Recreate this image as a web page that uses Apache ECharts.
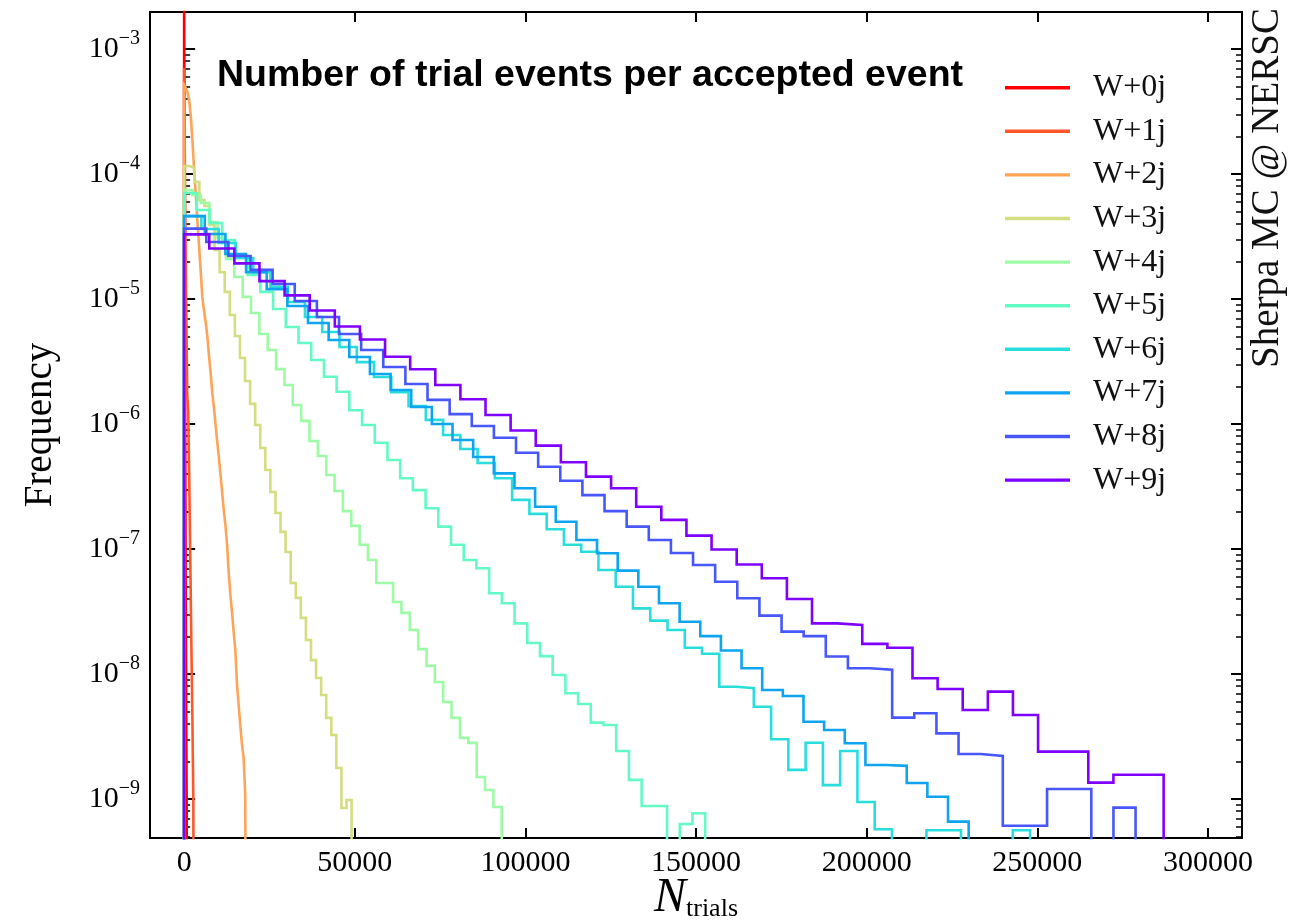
<!DOCTYPE html>
<html>
<head>
<meta charset="utf-8">
<title>Number of trial events per accepted event</title>
<script src="https://cdn.jsdelivr.net/npm/echarts@6.0.0/dist/echarts.min.js"></script>
<style>
  html, body { margin: 0; padding: 0; background: #ffffff; }
  #chart { width: 1298px; height: 921px; }
</style>
</head>
<body>
<div id="chart"></div>
<script>
// Jet multiplicities and their colours (rainbow map, W+0j red ... W+9j violet)
const seriesNames = ['W+0j', 'W+1j', 'W+2j', 'W+3j', 'W+4j', 'W+5j', 'W+6j', 'W+7j', 'W+8j', 'W+9j'];
const lineColors = ['#ff0000', '#ff572c', '#ffa457', '#d4dd80', '#9cfba4', '#63fbc3', '#2adddd', '#0ea4f0', '#4757fb', '#8000ff'];

// Histogram bin width (in number of trials) of each sample; bins start at 0
const binWidths = [250, 300, 484, 1487, 2449, 3724, 5059, 6050, 6484, 7360];

// Normalised frequency per bin (0 = empty bin)
const freqW0 = [3.2e-3, 4.0e-6, 2.0e-8, 8.0e-10];
const freqW1 = [7.05e-4, 6.19e-5, 9.82e-6, 1.74e-6, 1.25e-6, 3.56e-7, 8.95e-8, 1.87e-8, 5.06e-9, 9.64e-10];
const freqW2 = [5.15e-4, 4.88e-4, 4.53e-4, 3.91e-4, 2.96e-4, 1.87e-4, 1.12e-4, 7.05e-5, 4.29e-5, 2.70e-5,
                1.71e-5, 1.04e-5, 8.17e-6, 6.55e-6, 5.15e-6, 3.56e-6, 2.61e-6, 1.80e-6, 1.37e-6, 1.00e-6,
                7.31e-7, 5.45e-7, 3.98e-7, 2.86e-7, 2.05e-7, 1.56e-7, 1.08e-7, 6.43e-8, 4.29e-8, 3.13e-8,
                2.17e-8, 1.56e-8, 8.32e-9, 5.65e-9, 3.91e-9, 2.75e-9, 2.13e-9, 1.08e-9];
const freqW3 = [1.16e-4, 1.12e-4, 8.63e-5, 6.19e-5, 5.55e-5, 3.91e-5, 2.47e-5, 1.64e-5, 1.14e-5, 7.45e-6,
                5.06e-6, 3.37e-6, 2.21e-6, 1.45e-6, 9.82e-7, 6.43e-7, 4.29e-7, 2.86e-7, 1.94e-7, 1.37e-7,
                9.46e-8, 5.35e-8, 4.06e-8, 2.81e-8, 1.87e-8, 1.29e-8, 9.29e-9, 6.79e-9, 4.45e-9, 3.25e-9,
                1.77e-9, 8.47e-10, 9.82e-10];
const freqW4 = [7.45e-5, 6.79e-5, 5.86e-5, 4.13e-5, 3.08e-5, 2.09e-5, 1.50e-5, 1.04e-5, 7.73e-6, 5.25e-6,
                3.91e-6, 2.75e-6, 2.05e-6, 1.42e-6, 1.06e-6, 7.31e-7, 5.55e-7, 3.91e-7, 2.91e-7, 2.01e-7,
                1.53e-7, 1.08e-7, 8.17e-8, 5.35e-8, 5.35e-8, 3.77e-8, 3.08e-8, 2.25e-8, 1.58e-8, 1.16e-8,
                8.63e-9, 5.97e-9, 4.45e-9, 3.08e-9, 2.81e-9, 1.50e-9, 1.18e-9, 8.63e-10];
const freqW5 = [7.05e-5, 5.15e-5, 4.06e-5, 2.96e-5, 2.13e-5, 1.56e-5, 1.14e-5, 8.32e-6, 5.97e-6, 4.45e-6,
                3.25e-6, 2.39e-6, 1.81e-6, 1.29e-6, 9.82e-7, 7.09e-7, 5.15e-7, 3.68e-7, 2.96e-7, 2.12e-7,
                1.51e-7, 1.08e-7, 8.17e-8, 7.01e-8, 4.42e-8, 3.68e-8, 2.54e-8, 1.77e-8, 1.39e-8, 9.82e-9,
                7.01e-9, 5.75e-9, 4.08e-9, 3.91e-9, 2.42e-9, 1.42e-9, 8.79e-10, 8.79e-10, 0, 6.31e-10,
                7.69e-10];
const freqW6 = [4.61e-5, 3.63e-5, 2.81e-5, 2.13e-5, 1.64e-5, 1.25e-5, 9.46e-6, 7.18e-6, 5.45e-6, 4.13e-6,
                3.13e-6, 2.38e-6, 1.80e-6, 1.39e-6, 1.08e-6, 8.17e-7, 6.31e-7, 4.88e-7, 3.68e-7, 2.47e-7,
                1.91e-7, 1.44e-7, 1.08e-7, 9.51e-8, 6.79e-8, 4.99e-8, 3.35e-8, 2.67e-8, 2.25e-8, 1.62e-8,
                1.45e-8, 7.91e-9, 7.68e-9, 5.47e-9, 3.00e-9, 1.71e-9, 2.82e-9, 1.29e-9, 2.42e-9, 9.46e-10,
                5.72e-10, 0, 0, 5.62e-10, 5.62e-10, 0, 0, 0, 5.62e-10];
const freqW7 = [4.61e-5, 3.31e-5, 2.29e-5, 1.64e-5, 1.20e-5, 8.79e-6, 6.43e-6, 4.70e-6, 3.44e-6, 2.51e-6,
                1.87e-6, 1.37e-6, 1.00e-6, 7.45e-7, 5.45e-7, 4.03e-7, 3.06e-7, 2.18e-7, 1.65e-7, 1.18e-7,
                9.24e-8, 6.71e-8, 4.99e-8, 3.68e-8, 2.62e-8, 2.01e-8, 1.54e-8, 1.11e-8, 7.45e-9, 6.67e-9,
                4.15e-9, 3.56e-9, 2.79e-9, 1.87e-9, 1.84e-9, 1.34e-9, 1.04e-9, 6.58e-10];
const freqW8 = [3.66e-5, 2.86e-5, 2.21e-5, 1.71e-5, 1.32e-5, 9.64e-6, 7.18e-6, 5.25e-6, 3.91e-6, 2.86e-6,
                2.09e-6, 1.56e-6, 1.20e-6, 9.64e-7, 7.77e-7, 5.89e-7, 4.55e-7, 3.52e-7, 2.70e-7, 2.01e-7,
                1.51e-7, 1.18e-7, 9.29e-8, 7.45e-8, 5.47e-8, 4.03e-8, 2.93e-8, 2.18e-8, 2.01e-8, 1.38e-8,
                1.11e-8, 1.08e-8, 4.47e-9, 4.85e-9, 3.35e-9, 2.29e-9, 2.21e-9, 6.11e-10, 6.11e-10, 1.20e-9,
                1.20e-9, 0, 8.52e-10];
const freqW9 = [3.29e-5, 2.54e-5, 1.93e-5, 1.39e-5, 1.07e-5, 8.09e-6, 6.03e-6, 4.74e-6, 3.45e-6, 2.74e-6,
                2.05e-6, 1.58e-6, 1.18e-6, 8.87e-7, 6.71e-7, 4.94e-7, 3.79e-7, 3.06e-7, 2.18e-7, 1.71e-7,
                1.28e-7, 9.91e-8, 7.52e-8, 5.83e-8, 3.98e-8, 2.54e-8, 2.47e-8, 1.74e-8, 1.62e-8, 9.24e-9,
                7.59e-9, 5.15e-9, 7.22e-9, 4.70e-9, 2.39e-9, 2.39e-9, 1.35e-9, 1.56e-9, 1.56e-9];

const allFreqs = [freqW0, freqW1, freqW2, freqW3, freqW4, freqW5, freqW6, freqW7, freqW8, freqW9];

// Axis ticks
const xTicks = [0, 50000, 100000, 150000, 200000, 250000, 300000];
const yDecades = [1e-9, 1e-8, 1e-7, 1e-6, 1e-5, 1e-4, 1e-3];
const X_MIN = -10000, X_MAX = 310000;
const Y_MIN = 4.87e-10, Y_MAX = 1.98e-3;

// Minor log ticks: 2..9 times each decade inside the visible range
const yMinor = [];
[1e-10].concat(yDecades).forEach(d => {
  for (let k = 2; k <= 9; k++) {
    const v = k * d;
    if (v > Y_MIN && v < Y_MAX) yMinor.push(v);
  }
});

// Empty bins and the histogram baseline sit far below the visible range
const FLOOR = 1e-13;

// Outline of a step histogram: up from the baseline, across every bin, back down
function stepOutline(width, freqs) {
  const pts = [[0, FLOOR]];
  freqs.forEach((f, i) => {
    const v = f > 0 ? f : FLOOR;
    pts.push([i * width, v], [(i + 1) * width, v]);
  });
  pts.push([freqs.length * width, FLOOR]);
  return pts;
}

const SERIF = "'Liberation Serif', 'Times New Roman', serif";

function decadeLabel(v) {
  const e = Math.round(Math.log10(v));
  return '{b|10}{s|' + (e < 0 ? '\u2212' + (-e) : e) + '}';
}

const labelRich = {
  b: { fontFamily: SERIF, fontSize: 30, color: '#000', lineHeight: 40, verticalAlign: 'middle' },
  s: { fontFamily: SERIF, fontSize: 20, color: '#000', lineHeight: 18, verticalAlign: 'top' }
};

function yAxisDef(position, major, withLabels) {
  return {
    type: 'log',
    logBase: 10,
    position: position,
    min: Y_MIN,
    max: Y_MAX,
    gridIndex: 0,
    axisLine: { show: false },
    splitLine: { show: false },
    minorTick: { show: false },
    axisTick: {
      show: true,
      inside: true,
      length: major ? 11 : 6,
      lineStyle: { color: '#000', width: major ? 2 : 1.5 },
      customValues: major ? yDecades : yMinor
    },
    axisLabel: withLabels ? {
      show: true,
      margin: 10,
      customValues: yDecades,
      formatter: decadeLabel,
      rich: labelRich
    } : { show: false }
  };
}

const series = seriesNames.map((name, i) => ({
  name: name,
  type: 'line',
  data: stepOutline(binWidths[i], allFreqs[i]),
  showSymbol: false,
  symbol: 'none',
  clip: true,
  silent: true,
  animation: false,
  xAxisIndex: 0,
  yAxisIndex: 0,
  lineStyle: { color: lineColors[i], width: 2.6, join: 'miter' },
  itemStyle: { color: lineColors[i] },
  emphasis: { disabled: true }
}));

const chart = echarts.init(document.getElementById('chart'), null, { renderer: 'canvas' });

chart.setOption({
  animation: false,
  backgroundColor: '#ffffff',
  title: {
    text: 'Number of trial events per accepted event',
    left: 217,
    top: 57,
    padding: 0,
    textStyle: {
      fontFamily: "'Liberation Sans', Arial, sans-serif",
      fontWeight: 'bold',
      fontSize: 37.5,
      color: '#000'
    }
  },
  legend: {
    orient: 'vertical',
    left: 1005,
    top: 71.7,
    padding: 0,
    icon: 'rect',
    itemWidth: 65,
    itemHeight: 3.4,
    itemGap: 11.6,
    selectedMode: false,
    data: seriesNames,
    itemStyle: { borderWidth: 0 },
    textStyle: {
      fontFamily: SERIF,
      fontSize: 32,
      lineHeight: 30,
      color: '#111',
      padding: [0, 0, 0, 18]
    }
  },
  grid: {
    left: 150,
    top: 12,
    right: 56,
    bottom: 83,
    show: true,
    borderColor: '#000',
    borderWidth: 2,
    backgroundColor: 'transparent',
    containLabel: false,
    outerBoundsMode: 'none'
  },
  xAxis: [
    {
      type: 'value',
      position: 'bottom',
      min: X_MIN,
      max: X_MAX,
      axisLine: { show: false },
      splitLine: { show: false },
      axisTick: { show: true, inside: true, length: 10, lineStyle: { color: '#000', width: 2 }, customValues: xTicks },
      axisLabel: {
        show: true,
        margin: 10,
        customValues: xTicks,
        fontFamily: SERIF,
        fontSize: 30,
        color: '#000',
        formatter: v => String(v)
      },
      name: '{n|N}{t|trials}',
      nameLocation: 'middle',
      nameGap: 36,
      nameMoveOverlap: false,
      nameTextStyle: {
        rich: {
          n: { fontFamily: SERIF, fontStyle: 'italic', fontSize: 48, lineHeight: 48, padding: [0, 0, 9, 0], verticalAlign: 'top', color: '#000' },
          t: { fontFamily: SERIF, fontSize: 26, lineHeight: 26, verticalAlign: 'bottom', color: '#000' }
        }
      }
    },
    {
      type: 'value',
      position: 'top',
      min: X_MIN,
      max: X_MAX,
      axisLine: { show: false },
      splitLine: { show: false },
      axisTick: { show: true, inside: true, length: 10, lineStyle: { color: '#000', width: 2 }, customValues: xTicks },
      axisLabel: { show: false }
    }
  ],
  yAxis: [
    Object.assign(yAxisDef('left', true, true), {
      name: 'Frequency',
      nameLocation: 'middle',
      nameRotate: 90,
      nameGap: 90,
      nameMoveOverlap: false,
      nameTextStyle: { fontFamily: SERIF, fontSize: 39, lineHeight: 39, color: '#000' }
    }),
    yAxisDef('left', false, false),
    yAxisDef('right', true, false),
    yAxisDef('right', false, false)
  ],
  graphic: [
    {
      type: 'text',
      x: 1268,
      y: 188,
      rotation: Math.PI / 2,
      silent: true,
      style: {
        text: 'Sherpa MC @ NERSC',
        fontFamily: SERIF,
        fontSize: 39,
        fill: '#111',
        align: 'center',
        verticalAlign: 'middle'
      }
    }
  ],
  series: series
});
</script>
</body>
</html>
